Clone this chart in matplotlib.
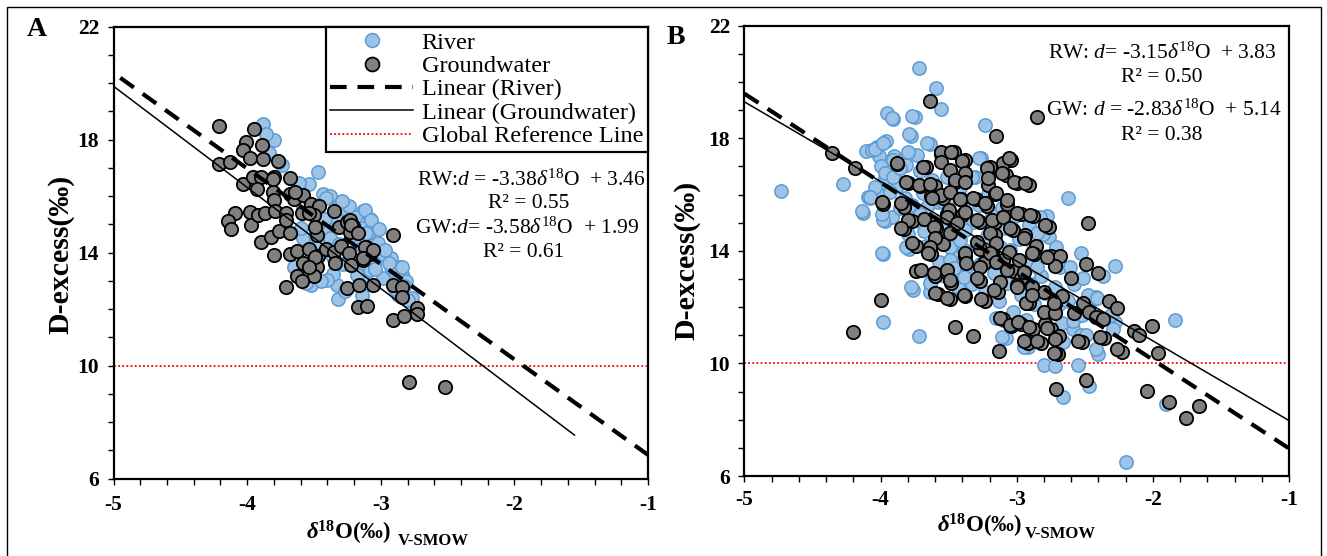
import matplotlib
matplotlib.use("Agg")
import matplotlib.pyplot as plt
from matplotlib.lines import Line2D
from matplotlib.patches import Rectangle
from matplotlib.ticker import MultipleLocator

plt.rcParams['font.family'] = ['Liberation Serif', 'DejaVu Serif']
plt.rcParams['axes.unicode_minus'] = False
plt.rcParams['mathtext.fontset'] = 'custom'
plt.rcParams['mathtext.rm'] = 'Liberation Serif'
plt.rcParams['mathtext.it'] = 'Liberation Serif:italic'
plt.rcParams['mathtext.bf'] = 'Liberation Serif:bold'
plt.rcParams['mathtext.bfit'] = 'Liberation Serif:italic:bold'

# ---------------- Panel A data ----------------
A_river_x = [-3.88, -3.80, -3.86, -3.74, -3.47, -3.54, -3.43, -3.38, -3.31, -3.28,
             -3.13, -3.08, -3.06, -3.09, -3.02, -3.00, -2.92, -2.86, -2.84, -2.81,
             -2.78, -2.87, -3.33, -3.32, -3.36, -3.52, -3.65, -3.14, -3.08, -3.05,
             -3.17, -3.16, -3.20, -3.14, -3.19, -3.24, -3.33, -3.39, -3.46, -3.58,
             -3.60, -3.14, -2.98, -2.91, -3.12, -3.07, -3.02, -2.92, -2.84, -2.77,
             -3.84, -3.76, -3.61, -3.58, -3.50, -3.49, -3.52, -3.41, -3.42, -3.38,
             -3.40, -3.29, -3.31, -3.28, -3.22, -3.21, -3.18, -3.11, -3.10, -3.04,
             -3.01, -2.97, -2.94, -2.89, -2.83, -2.80, -3.27, -3.45, -3.56, -3.36]
A_river_y = [18.56, 17.99, 18.20, 17.09, 16.84, 16.43, 16.06, 16.02, 15.70, 15.58,
             15.48, 15.20, 14.95, 14.70, 14.25, 13.94, 13.81, 13.50, 13.25, 13.00,
             12.37, 12.49, 12.87, 12.37, 13.25, 12.87, 13.50, 13.12, 13.37, 13.62,
             13.56, 14.13, 14.51, 14.88, 15.26, 15.64, 15.14, 14.76, 14.38, 14.51,
             14.88, 12.49, 13.12, 13.37, 15.50, 15.15, 14.34, 13.50, 13.50, 12.40,
             17.52, 17.21, 16.47, 15.62, 15.51, 14.62, 13.31, 15.93, 15.18, 14.52,
             13.04, 15.83, 14.31, 13.61, 14.62, 13.92, 13.21, 14.71, 14.02, 13.42,
             14.83, 14.11, 13.63, 12.72, 12.83, 12.31, 12.65, 12.98, 12.92, 13.84]

A_gw_x = [-4.21, -3.95, -4.01, -3.89, -4.21, -4.13, -4.03, -3.98, -3.88, -3.77,
          -4.03, -3.96, -3.90, -3.80, -3.68, -3.93, -3.81, -3.80, -3.68, -3.65,
          -3.58, -3.52, -3.46, -4.09, -4.14, -4.12, -3.98, -3.97, -3.92, -3.87,
          -3.79, -3.71, -3.59, -3.50, -3.35, -3.31, -3.25, -3.21, -3.23, -3.90,
          -3.82, -3.76, -3.68, -3.71, -3.80, -3.68, -3.63, -3.54, -3.47, -3.58,
          -3.48, -3.50, -3.63, -3.59, -3.71, -3.48, -3.41, -3.35, -3.34, -3.30,
          -3.24, -3.22, -3.13, -3.11, -3.08, -3.25, -3.16, -3.06, -3.17, -3.10,
          -2.91, -2.91, -2.84, -2.84, -2.91, -2.83, -2.73, -2.73, -2.79, -2.52,
          -3.81, -3.64, -3.54, -3.49, -3.54, -3.23, -3.22, -3.17, -3.12, -3.06,
          -3.13, -3.49]
A_gw_y = [18.47, 18.38, 17.93, 17.82, 17.15, 17.21, 17.62, 17.34, 17.31, 17.24,
          16.42, 16.69, 16.69, 16.69, 16.65, 16.27, 16.14, 15.85, 16.08, 15.89,
          16.04, 15.74, 15.64, 15.41, 15.11, 14.82, 15.43, 14.98, 15.32, 15.41,
          15.49, 15.39, 15.41, 15.35, 15.49, 14.91, 15.07, 14.95, 14.73, 14.38,
          14.54, 14.76, 14.70, 15.14, 13.90, 13.94, 14.07, 14.13, 13.88, 13.62,
          13.50, 13.18, 13.18, 13.00, 12.77, 14.63, 14.13, 14.03, 13.62, 14.25,
          14.00, 13.56, 13.73, 14.19, 13.94, 12.74, 12.87, 12.87, 12.09, 12.11,
          14.63, 12.87, 12.77, 12.43, 11.61, 11.76, 12.05, 11.84, 9.41, 9.25,
          16.60, 16.14, 15.40, 13.85, 13.50, 15.15, 14.97, 14.70, 14.20, 14.10,
          13.80, 14.90]

# trendlines of panel A (slope, intercept, x-range)
A_river_fit = (-3.38, 3.46, [-4.95, -1.0])
A_gw_fit = (-3.58, 1.99, [-5.0, -1.55])

# ---------------- Panel B data ----------------
B_river_x = [-3.72, -3.59, -3.56, -3.95, -3.91, -3.75, -3.23, -3.78, -3.64, -3.96,
             -4.11, -4.03, -4.01, -3.90, -3.73, -3.26, -4.73, -4.28, -3.95, -4.01,
             -3.90, -4.08, -4.13, -3.97, -3.92, -3.82, -3.78, -2.62, -2.78, -2.76,
             -2.85, -2.53, -2.28, -2.37, -3.98, -3.79, -3.67, -3.76, -3.64, -3.98,
             -3.72, -2.80, -2.72, -2.55, -2.47, -2.66, -2.40, -2.28, -1.84, -1.90,
             -2.20, -3.10, -3.08, -2.92, -2.59, -2.53, -2.47, -2.42, -2.66, -4.06,
             -3.97, -4.09, -4.14, -3.98, -3.85,
             -4.00, -4.02, -3.99, -3.91, -3.88, -3.86, -3.84, -3.81, -3.79, -3.77,
             -3.80, -3.71, -3.69, -3.70, -3.68, -3.72, -3.66, -3.62, -3.58, -3.61,
             -3.59, -3.57, -3.63, -3.51, -3.48, -3.52, -3.49, -3.47, -3.53, -3.42,
             -3.38, -3.41, -3.39, -3.37, -3.43, -3.31, -3.28, -3.32, -3.29, -3.27,
             -3.33, -3.21, -3.18, -3.22, -3.19, -3.17, -3.23, -3.11, -3.08, -3.12,
             -3.09, -3.07, -3.13, -3.01, -2.98, -3.02, -2.99, -2.97, -3.03, -2.91,
             -2.88, -2.92, -2.89, -2.87, -2.93, -2.81, -2.78, -2.82, -2.79, -2.77,
             -2.71, -2.68, -2.72, -2.69, -2.67, -2.61, -2.58, -2.62, -2.59, -2.51,
             -2.48, -2.52, -2.49, -2.41, -2.38, -2.42, -2.31, -2.29,
             -3.92, -3.77, -3.79, -3.66, -4.04, -3.98, -3.80, -3.28, -3.97, -3.91,
             -4.04, -4.08, -3.93, -3.73, -3.66, -3.33, -3.99, -3.81, -3.38, -3.49,
             -3.05, -3.42, -2.83, -2.85, -3.78, -3.64, -3.39, -3.49, -2.85, -3.15,
             -3.11, -2.95, -3.86, -3.55, -3.71, -3.46]
B_river_y = [20.51, 19.77, 19.05, 18.89, 18.67, 18.77, 18.46, 18.08, 17.79, 17.89,
             17.53, 17.70, 17.35, 17.35, 17.41, 17.28, 16.14, 16.37, 16.71, 16.27,
             16.65, 15.89, 15.35, 15.07, 15.19, 15.89, 15.57, 15.89, 15.22, 14.50,
             14.56, 13.93, 13.45, 13.11, 13.87, 14.06, 14.18, 12.60, 12.54, 11.46,
             10.96, 9.95, 9.89, 9.95, 9.19, 8.81, 10.33, 11.46, 11.53, 8.55,
             6.51, 11.53, 10.90, 10.58, 11.21, 11.02, 12.03, 12.35, 10.77, 17.58,
             16.60, 15.90, 15.40, 15.10, 17.20,
             17.02, 16.03, 15.31, 17.22, 16.31, 15.52, 14.81, 17.04, 16.42, 15.63,
             14.61, 16.83, 16.04, 15.42, 14.72, 13.32, 14.03, 16.52, 15.73, 15.02,
             14.33, 13.61, 12.92, 16.61, 15.92, 15.03, 14.42, 13.82, 13.12, 16.22,
             15.41, 14.63, 14.02, 13.43, 12.71, 16.62, 15.61, 15.04, 14.21, 13.52,
             12.83, 16.02, 15.33, 14.51, 13.92, 13.21, 12.52, 15.53, 14.82, 14.12,
             13.51, 12.84, 12.21, 15.22, 14.43, 13.72, 13.03, 12.42, 11.82, 14.92,
             14.23, 13.51, 12.82, 12.11, 11.53, 14.61, 13.82, 13.12, 12.51, 11.81,
             14.12, 13.43, 12.72, 12.12, 11.43, 13.42, 12.81, 12.22, 11.52, 13.02,
             12.43, 11.71, 11.02, 12.32, 11.61, 10.52, 11.72, 11.22,
             18.71, 18.79, 18.15, 17.84, 17.61, 17.82, 17.52, 17.29, 16.75, 16.63,
             16.28, 15.92, 16.10, 15.09, 15.57, 16.63, 13.91, 14.15, 14.74, 14.15,
             14.03, 14.38, 15.21, 14.62, 12.72, 12.84, 13.08, 13.67, 13.44, 11.60,
             10.95, 10.59, 16.95, 15.78, 15.32, 13.38]

B_gw_x = [-3.64, -2.85, -3.15, -4.36, -4.19, -3.88, -3.67, -3.56, -3.46, -3.38,
          -3.38, -3.20, -3.04, -3.08, -3.00, -2.91, -3.80, -3.71, -3.60, -3.45,
          -3.21, -3.16, -3.07, -3.98, -3.83, -3.83, -3.77, -3.68, -3.63, -3.54,
          -3.41, -3.30, -3.22, -3.40, -3.48, -3.27, -3.16, -3.10, -2.97, -2.88,
          -2.76, -2.48, -3.59, -3.51, -3.59, -3.54, -3.74, -3.63, -3.38, -3.27,
          -3.18, -3.16, -3.03, -2.94, -2.86, -2.87, -2.75, -2.68, -2.72, -3.74,
          -3.60, -3.52, -3.48, -3.27, -3.24, -3.10, -3.03, -2.97, -2.88, -2.80,
          -2.91, -2.72, -2.67, -2.60, -2.49, -2.40, -2.32, -2.26, -2.51, -2.58,
          -2.47, -2.42, -2.37, -3.58, -3.49, -3.38, -3.23, -3.14, -3.10, -3.04,
          -2.97, -2.88, -2.79, -2.75, -2.69, -2.92, -2.82, -2.70, -2.52, -2.36,
          -2.23, -2.14, -2.10, -2.01, -1.96, -3.13, -4.00, -4.20, -3.45, -3.32,
          -2.71, -2.49, -2.04, -1.88, -1.66, -1.76, -2.26, -2.72, -2.55, -2.39,
          -3.88, -3.56, -3.48, -3.56, -3.40, -3.69, -3.49, -3.38, -3.22, -3.10,
          -3.06, -3.11, -3.81, -3.72, -3.64, -3.45, -3.38, -3.21, -3.02, -2.94,
          -3.56, -3.49, -3.42, -3.32, -3.23, -3.15, -3.07, -3.99, -3.85, -3.62,
          -3.50, -3.38, -3.80, -3.85, -3.61, -3.51, -3.44, -3.29, -3.18, -3.10,
          -3.00, -2.90, -2.79, -3.60, -3.64, -3.77, -3.49, -3.20, -3.05, -2.95,
          -3.29, -3.15, -3.65, -3.38, -3.20, -3.06, -2.89, -2.98, -2.78, -3.70,
          -3.61, -3.51, -3.37, -3.27, -3.15, -3.07, -2.95, -3.49, -3.29, -3.12,
          -3.00, -2.89, -3.60, -3.51, -3.39, -3.26, -3.17, -3.12, -3.05, -2.99,
          -2.91, -2.95, -2.85, -2.78, -2.72, -2.73, -3.00, -2.93, -2.80, -2.72,
          -2.89, -2.73]
B_gw_y = [19.31, 18.74, 18.08, 17.47, 16.94, 17.07, 16.97, 17.45, 17.50, 17.22,
          16.71, 16.97, 17.24, 16.71, 16.40, 16.33, 16.40, 16.30, 16.31, 16.46,
          16.33, 16.02, 15.66, 15.66, 15.57, 14.78, 15.07, 15.13, 15.95, 15.89,
          15.83, 15.83, 15.60, 15.26, 15.13, 15.04, 15.04, 15.19, 15.32, 15.22,
          14.85, 14.98, 14.81, 15.32, 14.44, 14.25, 14.18, 13.87, 13.80, 14.06,
          13.87, 14.56, 14.75, 14.56, 14.18, 13.87, 13.80, 13.80, 13.45, 13.30,
          13.11, 13.23, 12.85, 12.92, 13.55, 13.68, 13.30, 13.04, 12.66, 12.54,
          12.16, 12.10, 12.41, 13.04, 13.53, 13.20, 12.22, 11.97, 12.16, 11.78,
          11.81, 11.65, 11.59, 12.45, 12.29, 12.38, 12.22, 12.54, 11.59, 11.33,
          11.40, 11.21, 11.40, 11.21, 10.96, 10.74, 10.74, 10.33, 10.77, 10.90,
          10.41, 11.15, 11.00, 11.34, 10.36, 10.43, 12.25, 11.12, 11.30, 10.96,
          9.09, 9.40, 9.02, 8.62, 8.49, 8.07, 10.50, 10.36, 10.80, 10.93,
          17.11, 17.52, 17.52, 17.17, 17.20, 16.97, 16.87, 16.75, 16.93, 17.11,
          17.29, 16.75, 16.45, 16.34, 16.37, 16.52, 16.45, 16.58, 16.45, 16.40,
          15.98, 16.10, 15.83, 15.86, 15.69, 16.04, 15.80, 15.74, 15.69, 15.86,
          15.45, 15.39, 15.09, 14.80, 14.86, 15.21, 14.98, 15.09, 15.09, 15.21,
          15.33, 15.27, 14.92, 14.44, 14.15, 14.27, 14.62, 14.62, 14.80, 14.44,
          14.32, 14.27, 13.91, 13.91, 13.91, 13.97, 13.91, 13.67, 13.79, 13.32,
          13.20, 13.32, 13.56, 13.44, 13.61, 13.32, 13.26, 12.96, 13.02, 12.90,
          12.79, 12.72, 12.51, 12.31, 12.43, 12.28, 12.61, 11.60, 11.36, 11.48,
          11.30, 10.80, 10.80, 11.25, 10.86, 10.36, 12.72, 12.13, 11.84, 11.78,
          12.43, 12.13]

B_river_fit = (-3.15, 3.83, [-5.0, -1.0])
B_gw_fit = (-2.83, 5.14, [-5.0, -1.0])

ref_y = 10
x_ticks = [-5, -4, -3, -2, -1]
y_ticks = [6, 10, 14, 18, 22]

A_eq = ['RW:$\\mathit{d}$ = -3.38$\\mathit{δ}^{18}$O  + 3.46', 'R² = 0.55',
        'GW:$\\mathit{d}$= -3.58$\\mathit{δ}^{18}$O  + 1.99', 'R² = 0.61']
B_eq = ['RW: $\\mathit{d}$= -3.15$\\mathit{δ}^{18}$O  + 3.83', 'R² = 0.50',
        'GW: $\\mathit{d}$ = -2.83$\\mathit{δ}^{18}$O  + 5.14', 'R² = 0.38']

# ---------------- styles ----------------
W, H = 1327, 556
river_fc, river_ec = '#9DC3E6', '#5B9BD5'
gw_fc, gw_ec = '#808080', '#000000'
msize = 92

fig = plt.figure(figsize=(W / 100, H / 100), dpi=100)

def fx(px):
    return px / W

def fy(py):
    return 1 - py / H

axA = fig.add_axes([fx(113.6), fy(478.6), fx(648) - fx(113.6), fy(26.7) - fy(478.6)])
axB = fig.add_axes([fx(744.5), fy(476), fx(1289) - fx(744.5), fy(25.6) - fy(476)])

def draw(ax, rx, ry, gx, gy, rfit, gfit, xpad):
    ax.scatter(rx, ry, s=msize, facecolor=river_fc, edgecolor=river_ec, linewidth=1.1, zorder=2)
    ax.scatter(gx, gy, s=msize, facecolor=gw_fc, edgecolor=gw_ec, linewidth=1.3, zorder=3)
    m, b, xr = rfit
    ax.plot(xr, [m * v + b for v in xr], color='black', lw=3.0, ls=(0, (4, 2.6)), zorder=4,
            solid_capstyle='butt', dash_capstyle='butt')
    m, b, xr = gfit
    ax.plot(xr, [m * v + b for v in xr], color='black', lw=1.1, ls='-', zorder=4)
    ax.axhline(ref_y, color='red', lw=1.3, ls=(0, (1, 1.3)), zorder=1)
    ax.set_xlim(-5, -1)
    ax.set_ylim(6, 22)
    ax.set_xticks(x_ticks)
    ax.set_yticks(y_ticks)
    ax.xaxis.set_minor_locator(MultipleLocator(0.2))
    ax.yaxis.set_minor_locator(MultipleLocator(1))
    ax.tick_params(which='both', direction='out', length=4.5, width=1.0, color='black')
    ax.tick_params(axis='y', which='major', pad=6)
    ax.tick_params(axis='x', which='major', pad=xpad)
    for lab in ax.get_xticklabels() + ax.get_yticklabels():
        lab.set_fontweight('bold')
        lab.set_fontsize(15.5)
    for sp in ax.spines.values():
        sp.set_linewidth(1.6)
        sp.set_color('black')

draw(axA, A_river_x, A_river_y, A_gw_x, A_gw_y, A_river_fit, A_gw_fit, 7)
draw(axB, B_river_x, B_river_y, B_gw_x, B_gw_y, B_river_fit, B_gw_fit, 5.5)

# legend in panel A
handles = [
    Line2D([], [], ls='', marker='o', ms=10, mfc=river_fc, mec=river_ec, mew=1.1),
    Line2D([], [], ls='', marker='o', ms=10, mfc=gw_fc, mec=gw_ec, mew=1.3),
    Line2D([], [], color='black', lw=3.0, ls=(0, (4, 2.6))),
    Line2D([], [], color='black', lw=1.1, ls='-'),
    Line2D([], [], color='red', lw=1.3, ls=(0, (1, 1.3))),
]
labels = ['River', 'Groundwater', 'Linear (River)', 'Linear (Groundwater)', 'Global Reference Line']
leg = axA.legend(handles, labels, loc='upper right', bbox_to_anchor=(1.0, 1.0),
                 borderaxespad=0, fontsize=17.5, handlelength=3.4, handletextpad=0.35,
                 labelspacing=0.06, borderpad=0.2, fancybox=False, framealpha=1,
                 edgecolor='black')
leg.get_frame().set_linewidth(1.6)
leg.set_zorder(10)

# equations
for txt, (x, y) in zip(A_eq, [(531, 180), (529, 204), (527, 228), (524, 252)]):
    fig.text(fx(x), fy(y), txt, ha='center', va='center', fontsize=15.5)
for txt, (x, y) in zip(B_eq, [(1162, 53), (1162, 77), (1164, 110), (1162, 135)]):
    fig.text(fx(x), fy(y), txt, ha='center', va='center', fontsize=15.5)

# panel letters
fig.text(fx(37), fy(30), 'A', ha='center', va='center', fontsize=20, fontweight='bold')
fig.text(fx(676), fy(37), 'B', ha='center', va='center', fontsize=20, fontweight='bold')

# y labels
fig.text(fx(61), fy(254), 'D-excess(‰)', rotation=90, ha='center', va='center',
         fontsize=21.5, fontweight='bold')
fig.text(fx(687), fy(260), 'D-excess(‰)', rotation=90, ha='center', va='center',
         fontsize=21.5, fontweight='bold')

# x labels (main part + subscript)
fig.canvas.draw()
renderer = fig.canvas.get_renderer()

def xlabel(x_left, y_base, gap):
    t = fig.text(fx(x_left), fy(y_base), '$\\mathbfit{δ}^{\\mathbf{18}}$O(‰)', ha='left',
                 va='baseline', fontsize=16.5, fontweight='bold')
    bb = t.get_window_extent(renderer)
    fig.text((bb.x1 + gap) / W, fy(y_base + 5), 'V-SMOW', ha='left', va='baseline',
             fontsize=12, fontweight='bold')

xlabel(306, 540, 7)
xlabel(937, 533, 3)

# outer frame
fig.add_artist(Rectangle((fx(6.5), -0.05), fx(1321) - fx(6.5), fy(7) + 0.05,
                         transform=fig.transFigure, fill=False, lw=1.0, ec='black'))

fig.savefig('out.png', dpi=100)
